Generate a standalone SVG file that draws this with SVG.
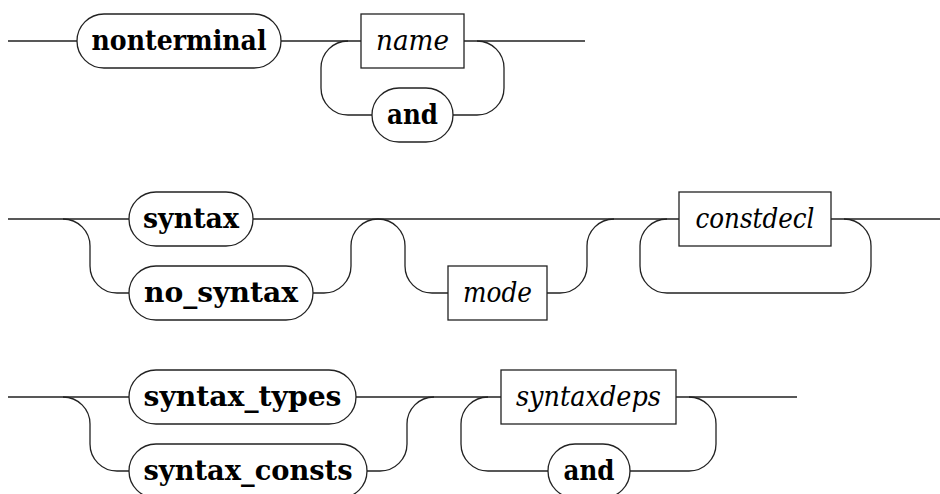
<svg xmlns="http://www.w3.org/2000/svg" width="940" height="494" viewBox="0 0 940 494">
<style>
.n rect{fill:#fff;stroke:#222;stroke-width:1.3}
.c path{fill:none;stroke:#222;stroke-width:1.3}
.t{font-family:'DejaVu Serif','Liberation Serif',serif;font-weight:bold;font-size:28px;text-anchor:middle;fill:#000}
.i{font-family:'DejaVu Serif','Liberation Serif',serif;font-style:italic;font-size:28px;text-anchor:middle;fill:#000}
</style>
<rect width="940" height="494" fill="#fff"/>
<g id="connectors" class="c">
<path d="M8,41 H77 M281,41 H361 M464,41 H585"/>
<path d="M348,41 A27,27 0 0 0 321,68 V88 A27,27 0 0 0 348,115 H372"/>
<path d="M453,115 H477 A27,27 0 0 0 504,88 V68 A27,27 0 0 0 477,41"/>
<path d="M8,219 H129 M253,219 H679 M831,219 H940"/>
<path d="M63,219 A27,27 0 0 1 90,246 V266 A27,27 0 0 0 117,293 H129"/>
<path d="M313,293 H324 A27,27 0 0 0 351,266 V246 A27,27 0 0 1 378,219"/>
<path d="M378,219 A27,27 0 0 1 405,246 V266 A27,27 0 0 0 432,293 H448"/>
<path d="M547,293 H560 A27,27 0 0 0 587,266 V246 A27,27 0 0 1 614,219"/>
<path d="M667,219 A27,27 0 0 0 640,246 V266 A27,27 0 0 0 667,293 H844 A27,27 0 0 0 871,266 V246 A27,27 0 0 0 844,219"/>
<path d="M8,397 H129 M356,397 H501 M676,397 H797"/>
<path d="M63,397 A27,27 0 0 1 90,424 V444 A27,27 0 0 0 117,471 H129"/>
<path d="M367,471 H380 A27,27 0 0 0 407,444 V424 A27,27 0 0 1 434,397"/>
<path d="M488,397 A27,27 0 0 0 461,424 V444 A27,27 0 0 0 488,471 H548"/>
<path d="M630,471 H689 A27,27 0 0 0 716,444 V424 A27,27 0 0 0 689,397"/>
</g>
<g id="nonterminal" class="n"><rect x="77" y="14" width="204" height="54" rx="27"/><text class="t" x="179" y="50" textLength="175" lengthAdjust="spacingAndGlyphs">nonterminal</text></g>
<g id="name" class="n"><rect x="361" y="14" width="103" height="54"/><text class="i" x="412.5" y="50" textLength="73" lengthAdjust="spacingAndGlyphs">name</text></g>
<g id="and1" class="n"><rect x="372" y="88" width="81" height="54" rx="27"/><text class="t" x="412.5" y="124" textLength="51" lengthAdjust="spacingAndGlyphs">and</text></g>
<g id="syntax" class="n"><rect x="129" y="192" width="124" height="54" rx="27"/><text class="t" x="191" y="228" textLength="96" lengthAdjust="spacingAndGlyphs">syntax</text></g>
<g id="no_syntax" class="n"><rect x="129" y="266" width="184" height="54" rx="27"/><text class="t" x="221" y="302" textLength="154" lengthAdjust="spacingAndGlyphs">no_syntax</text></g>
<g id="mode" class="n"><rect x="448" y="266" width="99" height="54"/><text class="i" x="497.5" y="302" textLength="69" lengthAdjust="spacingAndGlyphs">mode</text></g>
<g id="constdecl" class="n"><rect x="679" y="192" width="152" height="54"/><text class="i" x="755" y="228" textLength="119" lengthAdjust="spacingAndGlyphs">constdecl</text></g>
<g id="syntax_types" class="n"><rect x="129" y="370" width="227" height="54" rx="27"/><text class="t" x="242.5" y="406" textLength="198" lengthAdjust="spacingAndGlyphs">syntax_types</text></g>
<g id="syntax_consts" class="n"><rect x="129" y="444" width="238" height="54" rx="27"/><text class="t" x="248" y="480" textLength="209" lengthAdjust="spacingAndGlyphs">syntax_consts</text></g>
<g id="syntaxdeps" class="n"><rect x="501" y="370" width="175" height="54"/><text class="i" x="588.5" y="406" textLength="145" lengthAdjust="spacingAndGlyphs">syntaxdeps</text></g>
<g id="and2" class="n"><rect x="548" y="444" width="82" height="54" rx="27"/><text class="t" x="589" y="480" textLength="51" lengthAdjust="spacingAndGlyphs">and</text></g>
</svg>
